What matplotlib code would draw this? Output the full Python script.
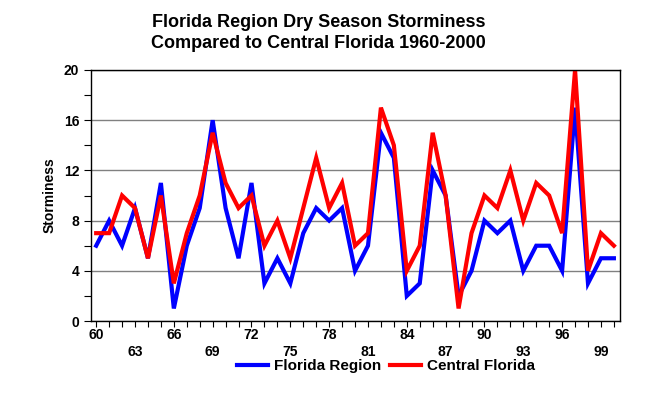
import numpy as np
import matplotlib.pyplot as plt

plt.rcParams['font.family'] = ['Liberation Sans', 'DejaVu Sans']
plt.rcParams['font.weight'] = 'bold'

years = list(range(1960, 2001))
florida_region = [6, 8, 6, 9, 5, 11, 1, 6, 9, 16,
                  9, 5, 11, 3, 5, 3, 7, 9, 8, 9,
                  4, 6, 15, 13, 2, 3, 12, 10, 2, 4,
                  8, 7, 8, 4, 6, 6, 4, 17, 3, 5, 5]
central_florida = [7, 7, 10, 9, 5, 10, 3, 7, 10, 15,
                   11, 9, 10, 6, 8, 5, 9, 13, 9, 11,
                   6, 7, 17, 14, 4, 6, 15, 10, 1, 7,
                   10, 9, 12, 8, 11, 10, 7, 20, 4, 7, 6]
upper_labels = ['60', '66', '72', '78', '84', '90', '96']
lower_labels = ['63', '69', '75', '81', '87', '93', '99']

fig = plt.figure(figsize=(6.58, 3.95), dpi=100)
ax = fig.add_axes([0.1383, 0.1873, 0.8039, 0.6355])

ax.plot(years, florida_region, color='#0000ff', lw=3, marker='s', markersize=0,
        label='Florida Region', solid_joinstyle='miter')
ax.plot(years, central_florida, color='#ff0000', lw=3, marker='s', markersize=0,
        label='Central Florida', solid_joinstyle='miter')

ax.set_xlim(1959.6, 2000.47)
ax.set_ylim(0, 20)
ax.set_yticks([0, 4, 8, 12, 16, 20])
ax.set_yticks([2, 6, 10, 14, 18], minor=True)
ax.yaxis.grid(True, which='major', color='#808080', lw=1)
ax.set_axisbelow(True)
ax.tick_params(axis='y', which='both', length=5, width=0.8, labelsize=10)

# every year gets a tick, labels alternate between two rows
xlabels = []
for y in years:
    s = '%02d' % (y % 100)
    if s in upper_labels:
        xlabels.append(s)
    elif s in lower_labels:
        xlabels.append('\n' + s)
    else:
        xlabels.append('')
ax.set_xticks(years)
ax.set_xticklabels(xlabels, fontsize=10, fontweight='bold', linespacing=1.3)
ax.tick_params(axis='x', length=4, width=0.8, pad=1)

for sp in ax.spines.values():
    sp.set_linewidth(1)

ax.set_ylabel('Storminess', fontsize=10, fontweight='bold', labelpad=5)
fig.suptitle('Florida Region Dry Season Storminess\nCompared to Central Florida 1960-2000',
             x=0.484, y=0.965, fontsize=13, fontweight='bold', linespacing=1.35)

leg = fig.legend(loc='center', bbox_to_anchor=(0.587, 0.073), ncol=2, frameon=False,
                 fontsize=11, handlelength=2.0, columnspacing=0.6, handletextpad=0.4)
for t in leg.get_texts():
    t.set_fontweight('bold')

fig.savefig('out.png', dpi=100)
